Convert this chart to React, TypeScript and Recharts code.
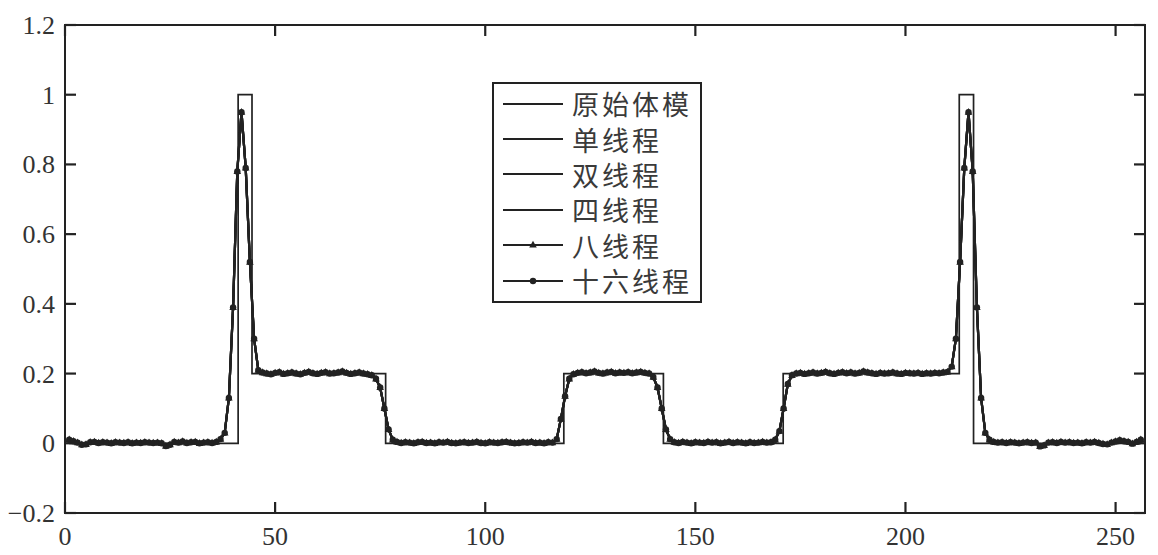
import { LineChart, Line, XAxis, YAxis, Legend, ReferenceArea } from "recharts";

const X_TICKS = [0, 50, 100, 150, 200, 250];
const Y_TICKS = [-0.2, 0, 0.2, 0.4, 0.6, 0.8, 1, 1.2];
const X_DOMAIN = [0, 257];
const Y_DOMAIN = [-0.2, 1.2];

const SERIES_NAMES = ["原始体模", "单线程", "双线程", "四线程", "八线程", "十六线程"];

// 原始体模: breakpoints of the piecewise-constant model
const MODEL_X = [1, 41.2, 41.2, 44.5, 44.5, 76.3, 76.3, 118.7, 118.7, 142.4, 142.4, 170.9, 170.9, 212.8, 212.8, 216.2, 216.2, 256];
const MODEL_Y = [0, 0, 1, 1, 0.2, 0.2, 0, 0, 0.2, 0.2, 0, 0, 0.2, 0.2, 1, 1, 0, 0];

// reconstruction, sample 1..256
const base1 = [0.010, 0.006, 0.002, -0.004, -0.003, 0.003, 0.004, 0.001, 0.003, 0.002,
  0.000, 0.003, 0.002, 0.001, 0.003, 0.000, 0.002, 0.001, 0.003, 0.002,
  0.001, 0.002, 0.000, -0.008, -0.004, 0.004, 0.002, 0.005, 0.001, 0.003,
  0.004, 0.000, 0.002, 0.003, 0.001, 0.004, 0.012];
const peak1 = [0.03, 0.13, 0.39, 0.78, 0.95, 0.79, 0.52, 0.30, 0.21];
const plat1 = [0.203, 0.200, 0.198, 0.202, 0.204, 0.199, 0.201, 0.203, 0.200, 0.198,
  0.202, 0.205, 0.201, 0.199, 0.202, 0.204, 0.200, 0.201, 0.203, 0.206,
  0.202, 0.199, 0.201, 0.203, 0.200, 0.198];
const fall1 = [0.195, 0.185, 0.16, 0.10, 0.04, 0.01];
const base2 = [0.004, 0.001, 0.003, 0.002, 0.000, 0.003, 0.004, 0.001, 0.002, 0.000,
  0.003, 0.002, 0.004, 0.001, 0.000, 0.002, 0.003, 0.001, 0.002, 0.004,
  0.001, 0.000, 0.003, 0.002, 0.001, 0.003, 0.004, 0.002, 0.000, 0.001,
  0.003, 0.002, 0.004, 0.001, 0.002, 0.000, 0.003, 0.002];
const rise2 = [0.012, 0.07, 0.135, 0.185, 0.198];
const plat2 = [0.202, 0.204, 0.201, 0.203, 0.206, 0.202, 0.200, 0.203, 0.205, 0.201,
  0.203, 0.202, 0.204, 0.201, 0.203, 0.205, 0.202, 0.200];
const fall2 = [0.19, 0.16, 0.10, 0.04, 0.012];
const base3 = [0.003, 0.001, 0.004, 0.002, 0.000, 0.003, 0.002, 0.001, 0.004, 0.002,
  0.003, 0.000, 0.002, 0.004, 0.001, 0.003, 0.002, 0.000, 0.003, 0.001,
  0.002, 0.004, 0.002, 0.003];
const rise3 = [0.01, 0.035, 0.10, 0.17, 0.195];
const plat3 = [0.200, 0.202, 0.199, 0.201, 0.203, 0.200, 0.202, 0.205, 0.201, 0.199,
  0.202, 0.204, 0.201, 0.203, 0.200, 0.202, 0.206, 0.203, 0.201, 0.199,
  0.202, 0.200, 0.201, 0.203, 0.200, 0.199, 0.202, 0.201, 0.200, 0.202,
  0.199, 0.201, 0.200, 0.202, 0.201, 0.203, 0.205];
const peak2 = [0.22, 0.30, 0.52, 0.79, 0.95, 0.78, 0.39, 0.13, 0.03, 0.01];
const base4 = [0.004, 0.002, 0.003, 0.001, 0.003, 0.002, 0.000, 0.002, 0.003, 0.001,
  0.002, -0.009, -0.006, 0.002, 0.003, 0.001, 0.004, 0.002, 0.003, 0.001,
  0.002, 0.000, 0.003, 0.002, 0.004, 0.001, -0.002, -0.003, 0.002, 0.005,
  0.009, 0.006, 0.004, -0.001, 0.004, 0.010];

const recon = [...base1, ...peak1, ...plat1, ...fall1, ...base2, ...rise2, ...plat2,
  ...fall2, ...base3, ...rise3, ...plat3, ...peak2, ...base4];

const modelData = MODEL_X.map((x, i) => ({ x, y: MODEL_Y[i] }));
const reconData = recon.map((y, i) => ({ x: i + 1, y }));

const INK = "#222";
const TICK_LEN = 11;
const TICK_W = 2.2;

const fmtY = (v: number) => String(Math.round(v * 10) / 10).replace("-", "−");

// tickSize/tickMargin are 0, so (x, y) sits on the axis line; ticks point inward
function BottomTick(props: any) {
  const { x, y, payload } = props;
  return (
    <g>
      <path d={`M${x},${y}V${y - TICK_LEN}`} stroke={INK} strokeWidth={TICK_W} fill="none" />
      <text x={x} y={y + 32} textAnchor="middle" fill="#333" fontSize={26} fontFamily="Liberation Serif">
        {payload.value}
      </text>
    </g>
  );
}
function TopTick(props: any) {
  const { x, y } = props;
  return <path d={`M${x},${y}V${y + TICK_LEN}`} stroke={INK} strokeWidth={TICK_W} fill="none" />;
}
function LeftTick(props: any) {
  const { x, y, payload } = props;
  return (
    <g>
      <path d={`M${x},${y}H${x + TICK_LEN}`} stroke={INK} strokeWidth={TICK_W} fill="none" />
      <text x={x - 10} y={y + 9} textAnchor="end" fill="#333" fontSize={26} fontFamily="Liberation Serif">
        {fmtY(payload.value)}
      </text>
    </g>
  );
}
function RightTick(props: any) {
  const { x, y } = props;
  return <path d={`M${x},${y}H${x - TICK_LEN}`} stroke={INK} strokeWidth={TICK_W} fill="none" />;
}

const Triangle = (p: any) => {
  const { cx, cy, index } = p;
  if (cx == null || cy == null) return <g key={`t${index}`} />;
  return (
    <path key={`t${index}`} d={`M${cx},${cy - 4.2}L${cx + 3.8},${cy + 2.6}L${cx - 3.8},${cy + 2.6}Z`} fill={INK} />
  );
};

const Dot = (p: any) => {
  const { cx, cy, index } = p;
  if (cx == null || cy == null) return <g key={`d${index}`} />;
  return <circle key={`d${index}`} cx={cx} cy={cy} r={3.2} fill={INK} />;
};

function LegendBox() {
  return (
    <div
      style={{
        width: 210,
        height: 221,
        boxSizing: "border-box",
        border: `2px solid ${INK}`,
        background: "#fff",
        paddingTop: 2,
      }}
    >
      {SERIES_NAMES.map((name, i) => (
        <div key={name} style={{ display: "flex", alignItems: "center", height: 35.4 }}>
          <svg width={60} height={20} style={{ marginLeft: 9, flex: "none" }}>
            <line x1={0} y1={10} x2={60} y2={10} stroke={INK} strokeWidth={2} />
            {i === 4 && <path d="M30,5.8L33.8,12.6L26.2,12.6Z" fill={INK} />}
            {i === 5 && <circle cx={30} cy={10} r={3.2} fill={INK} />}
          </svg>
          <span
            style={{
              marginLeft: 9,
              fontFamily: "Noto Sans CJK SC",
              fontSize: 27,
              letterSpacing: 3,
              color: "#3a3a3a",
              lineHeight: 1,
              whiteSpace: "nowrap",
            }}
          >
            {name}
          </span>
        </div>
      ))}
    </div>
  );
}

export default function App() {
  return (
    <div style={{ position: "absolute", left: 0, top: 0, background: "#fff" }}>
      <LineChart width={1158} height={555} margin={{ top: 24, right: 12, bottom: 0, left: 0 }}>
        <XAxis xAxisId="b" dataKey="x" type="number" domain={X_DOMAIN} allowDataOverflow ticks={X_TICKS}
          interval={0} height={42} tickSize={0} tickMargin={0} tickLine={false} axisLine={false}
          tick={BottomTick} />
        <XAxis xAxisId="t" dataKey="x" orientation="top" type="number" domain={X_DOMAIN} allowDataOverflow
          ticks={X_TICKS} interval={0} height={1} tickSize={0} tickMargin={0} tickLine={false} axisLine={false}
          tick={TopTick} />
        <YAxis yAxisId="l" type="number" domain={Y_DOMAIN} allowDataOverflow ticks={Y_TICKS} interval={0}
          width={65} tickSize={0} tickMargin={0} tickLine={false} axisLine={false} tick={LeftTick} />
        <YAxis yAxisId="r" orientation="right" type="number" domain={Y_DOMAIN} allowDataOverflow ticks={Y_TICKS}
          interval={0} width={1} tickSize={0} tickMargin={0} tickLine={false} axisLine={false} tick={RightTick} />
        {/* the plot frame */}
        <ReferenceArea xAxisId="b" yAxisId="l" x1={X_DOMAIN[0]} x2={X_DOMAIN[1]} y1={Y_DOMAIN[0]} y2={Y_DOMAIN[1]}
          fill="none" fillOpacity={0} stroke={INK} strokeWidth={2} ifOverflow="visible" />
        <Legend
          layout="vertical"
          align="center"
          verticalAlign="middle"
          wrapperStyle={{ left: 492, top: 82, width: 210, height: 221 }}
          content={() => <LegendBox />}
        />
        <Line xAxisId="t" yAxisId="r" data={modelData} dataKey="y" name={SERIES_NAMES[0]} type="linear"
          stroke={INK} strokeWidth={1.7} dot={false} isAnimationActive={false} />
        <Line xAxisId="b" yAxisId="l" data={reconData} dataKey="y" name={SERIES_NAMES[1]} type="linear"
          stroke={INK} strokeWidth={2.2} dot={false} isAnimationActive={false} />
        <Line xAxisId="b" yAxisId="l" data={reconData} dataKey="y" name={SERIES_NAMES[2]} type="linear"
          stroke={INK} strokeWidth={2.2} dot={false} isAnimationActive={false} />
        <Line xAxisId="b" yAxisId="l" data={reconData} dataKey="y" name={SERIES_NAMES[3]} type="linear"
          stroke={INK} strokeWidth={2.2} dot={false} isAnimationActive={false} />
        <Line xAxisId="b" yAxisId="l" data={reconData} dataKey="y" name={SERIES_NAMES[4]} type="linear"
          stroke={INK} strokeWidth={2.2} dot={Triangle} isAnimationActive={false} />
        <Line xAxisId="b" yAxisId="l" data={reconData} dataKey="y" name={SERIES_NAMES[5]} type="linear"
          stroke={INK} strokeWidth={2.2} dot={Dot} isAnimationActive={false} />
      </LineChart>
    </div>
  );
}
